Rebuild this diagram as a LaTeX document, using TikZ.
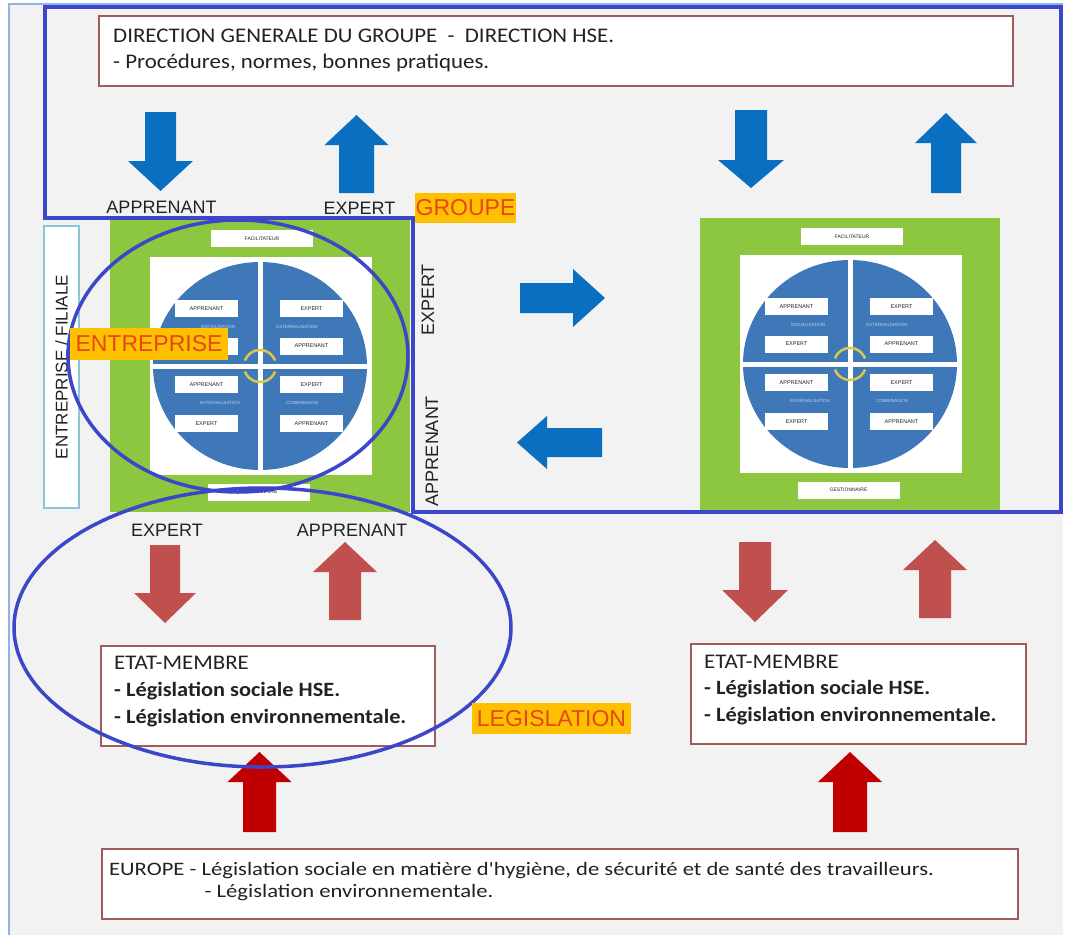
\documentclass[tikz,border=0pt]{standalone}
\usepackage{fontspec}
\setmainfont{Liberation Sans}
\newfontfamily\boxfont[FakeStretch=1.1]{Carlito}
\newfontfamily\eurofont[FakeStretch=1.19]{Carlito}
\definecolor{bgG}{HTML}{F2F2F2}
\definecolor{frameB}{HTML}{8EB4E3}
\definecolor{grpB}{HTML}{3C46C8}
\definecolor{arrB}{HTML}{0A6FC0}
\definecolor{arrR}{HTML}{C0504D}
\definecolor{arrD}{HTML}{C00000}
\definecolor{grn}{HTML}{8DC63F}
\definecolor{circB}{HTML}{3F78B9}
\definecolor{boxR}{HTML}{A05C5C}
\definecolor{lblO}{HTML}{FFC000}
\definecolor{lblT}{HTML}{E5461A}
\definecolor{ylw}{HTML}{D9C84B}
\definecolor{filB}{HTML}{8CC4D8}
\definecolor{txt}{HTML}{222222}
\definecolor{qlabC}{HTML}{BFD3EA}

% vertical block arrow: colour, shaft x1, shaft x2, shaft end y, head overhang, head base y, tip y
\newcommand{\VArrow}[7]{\fill[#1] (#2,#4) -- (#3,#4) -- (#3,#6) -- ({#3+#5},#6) -- ({(#2+#3)/2},#7) -- ({#2-#5},#6) -- (#2,#6) -- cycle;}
% horizontal block arrow: colour, shaft y1, shaft y2, shaft end x, head overhang, head base x, tip x
\newcommand{\HArrow}[7]{\fill[#1] (#4,#2) -- (#4,#3) -- (#6,#3) -- (#6,{#3+#5}) -- (#7,{(#2+#3)/2}) -- (#6,{#2-#5}) -- (#6,#2) -- cycle;}

\newcommand{\Module}[3]{%
\begin{scope}[shift={(#1,#2)}]
\fill[grn] (0,0) rectangle (300,292);
\node[fac] (#3fac) at (152,18.5) {FACILITATEUR};
\fill[white] (40,37) rectangle (262,255);
\fill[circB] (150,146) ellipse [x radius=107, y radius=104];
\fill[white] (147.5,40) rectangle (152.5,252);
\fill[white] (42,143.5) rectangle (258,148.5);
\node[qbox] (#3tla) at (96.5,88.5) {APPRENANT};
\node[qbox] (#3tlb) at (96.5,126) {EXPERT};
\node[qbox] (#3tra) at (201.5,88.5) {EXPERT};
\node[qbox] (#3trb) at (201.5,126) {APPRENANT};
\node[qbox] (#3bla) at (96.5,164.5) {APPRENANT};
\node[qbox] (#3blb) at (96.5,203.5) {EXPERT};
\node[qbox] (#3bra) at (201.5,164.5) {EXPERT};
\node[qbox] (#3brb) at (201.5,203.5) {APPRENANT};
\node[qlab] (#3s) at (108,107) {SOCIALISATION};
\node[qlab] (#3e) at (187,107) {EXTERNALISATION};
\node[qlab] (#3i) at (110,183) {INTERNALISATION};
\node[qlab] (#3c) at (192,183) {COMBINAISON};
\draw[ylw, line width=2.5] ([shift={(200:16)}]150,146) arc[start angle=200, end angle=340, radius=16];
\draw[ylw, line width=2.5] ([shift={(20:16)}]150,146) arc[start angle=20, end angle=160, radius=16];
\node[fac] (#3ges) at (148.5,272) {GESTIONNAIRE};
\end{scope}}

\begin{document}
\begin{tikzpicture}[x=1pt,y=-1pt,
  fac/.style={fill=white, minimum width=102, minimum height=17, inner sep=0, text=txt, font=\fontsize{5}{6}\selectfont},
  qbox/.style={fill=white, minimum width=63, minimum height=17, inner sep=0, text=txt, font=\fontsize{5.5}{6}\selectfont},
  qlab/.style={inner sep=0, text=qlabC, font=\fontsize{4.5}{5}\selectfont},
  lbl/.style={inner sep=0, text=txt, font=\fontsize{18}{20}\selectfont},
  org/.style={fill=lblO, text=lblT, inner sep=0, font=\fontsize{23}{25}\selectfont},
  tbox/.style={fill=white, draw=boxR, line width=1.5, inner sep=0},
  btxt/.style={inner sep=0, text=txt, font=\boxfont\fontsize{20.8}{24}\selectfont},
  etxt/.style={inner sep=0, text=txt, font=\eurofont\fontsize{19}{22}\selectfont},
  grp/.style={draw=grpB, line width=4},
  ell/.style={draw=grpB, line width=3.5}
]
\useasboundingbox (0,0) rectangle (1069,935);
\fill[white] (0,0) rectangle (1069,935);
\fill[bgG] (9,4) rectangle (1063,935);
\draw[frameB, line width=1.2] (9,935) -- (9,4) -- (1063,4);

% top box
\node[tbox, anchor=north west, minimum width=914, minimum height=70] (dg) at (98,15) {};
\node[btxt, anchor=base west] (dg1) at (113,42.5) {DIRECTION GENERALE DU GROUPE \ - \ DIRECTION HSE.};
\node[btxt, anchor=base west] (dg2) at (113,68) {- Procédures, normes, bonnes pratiques.};

% modules
\Module{110}{220}{L}
\Module{700}{218}{R}

% group outline
\draw[grp] (45,7) -- (1061,7) -- (1061,512) -- (413,512) -- (413,218) -- (45,218) -- cycle;

% filiale box
\node[draw=filB, line width=2, fill=white, anchor=north west, minimum width=35, minimum height=282, inner sep=0] (fil) at (43,225) {};
\node[lbl, rotate=90, font=\fontsize{17}{19}\selectfont] (filt) at (fil.center) {ENTREPRISE / FILIALE};

% blue arrows top
\VArrow{arrB}{145}{176}{112}{17}{161}{191}
\VArrow{arrB}{339}{374}{193}{14.5}{145}{115}
\VArrow{arrB}{735}{767}{110}{17}{160}{188}
\VArrow{arrB}{931}{961}{193}{16}{143}{113}
% blue arrows middle
\HArrow{arrB}{283}{313}{520}{14}{573}{605}
\HArrow{arrB}{428}{457}{602}{12}{547}{517}
% red arrows
\VArrow{arrR}{150}{180}{545}{16}{593}{623}
\VArrow{arrR}{329}{361}{620}{16}{572}{542}
\VArrow{arrR}{739}{771}{542}{17}{590}{622}
\VArrow{arrR}{919}{951}{618}{16}{570}{540}
% dark red arrows
\VArrow{arrD}{243}{276}{832}{15.5}{782}{752}
\VArrow{arrD}{833}{867}{832}{15}{782}{752}

% labels
\node[lbl] (l1) at (161.5,207) {APPRENANT};
\node[lbl] (l2) at (359.5,208) {EXPERT};
\node[lbl, rotate=90] (l3) at (428,300) {EXPERT};
\node[lbl, rotate=90] (l4) at (432,451) {APPRENANT};
\node[lbl] (l5) at (167,530) {EXPERT};
\node[lbl] (l6) at (352,530) {APPRENANT};

% etat-membre boxes
\node[tbox, anchor=north west, minimum width=334, minimum height=100] (etL) at (100,645) {};
\node[btxt, anchor=base west] (etL1) at (114,669.5) {ETAT-MEMBRE};
\node[btxt, anchor=base west, font=\boxfont\bfseries\fontsize{20.3}{24}\selectfont] (etL2) at (114,696.5) {- Législation sociale HSE.};
\node[btxt, anchor=base west, font=\boxfont\bfseries\fontsize{20.3}{24}\selectfont] (etL3) at (114,723.5) {- Législation environnementale.};

\node[tbox, anchor=north west, minimum width=335, minimum height=100] (etR) at (690,643) {};
\node[btxt, anchor=base west] (etR1) at (704,668.5) {ETAT-MEMBRE};
\node[btxt, anchor=base west, font=\boxfont\bfseries\fontsize{20.3}{24}\selectfont] (etR2) at (704,694.5) {- Législation sociale HSE.};
\node[btxt, anchor=base west, font=\boxfont\bfseries\fontsize{20.3}{24}\selectfont] (etR3) at (704,721.5) {- Législation environnementale.};

% europe box
\node[tbox, anchor=north west, minimum width=916, minimum height=70] (eu) at (101,848) {};
\node[etxt, anchor=base west] (eu1) at (109,875) {EUROPE - Législation sociale en matière d'hygiène, de sécurité et de santé des travailleurs.};
\node[etxt, anchor=base west] (eu2) at (204.5,897) {- Législation environnementale.};

% ellipses
\draw[ell] (238,356) ellipse [x radius=170, y radius=136];
\draw[ell] (262.5,627.5) ellipse [x radius=248.5, y radius=139.5];

% orange labels
\node[org, minimum width=101, minimum height=30] (grp) at (465.5,208) {GROUPE};
\node[org, minimum width=158, minimum height=32] (ent) at (149,344) {ENTREPRISE};
\node[org, minimum width=159, minimum height=31] (leg) at (551.5,718.5) {LEGISLATION};
\end{tikzpicture}
\end{document}
